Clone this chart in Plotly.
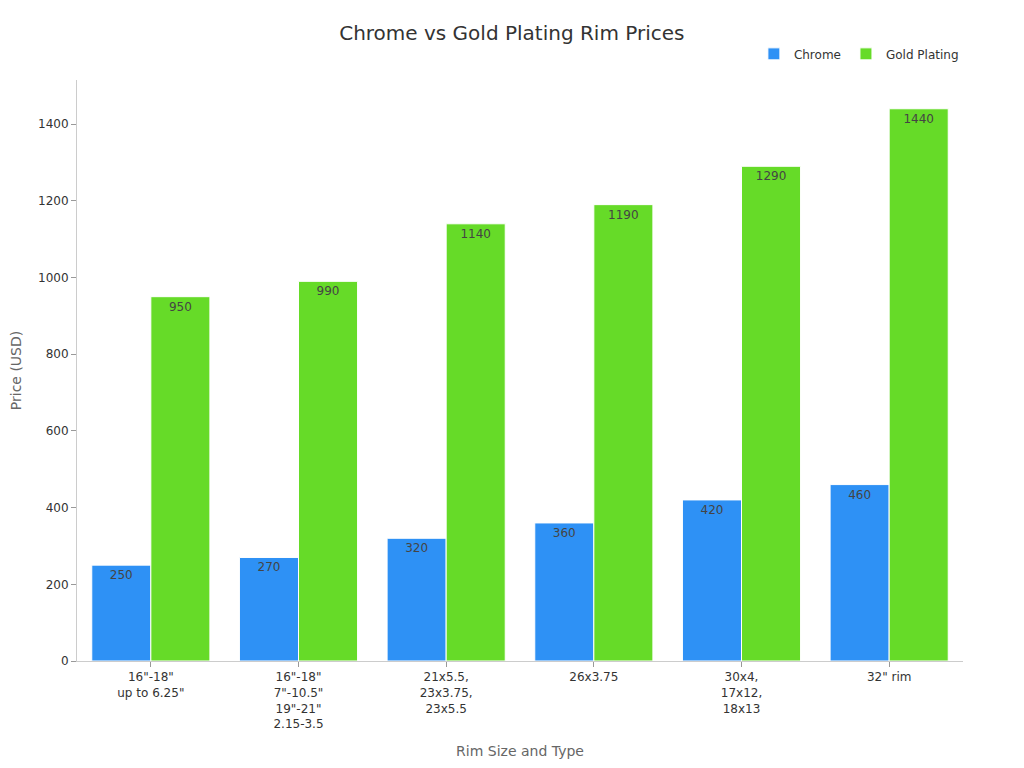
import plotly.graph_objects as go

categories = ['16"-18"<br>up to 6.25"', '16"-18"<br>7"-10.5"<br>19"-21"<br>2.15-3.5',
              '21x5.5,<br>23x3.75,<br>23x5.5', '26x3.75', '30x4,<br>17x12,<br>18x13', '32" rim']
chrome = [250, 270, 320, 360, 420, 460]
gold = [950, 990, 1140, 1190, 1290, 1440]

fig = go.Figure()
fig.add_trace(go.Bar(name="Chrome", x=categories, y=chrome, marker=dict(color="#2E91F5", line=dict(color="white", width=1)),
                     text=chrome, textposition="inside", insidetextanchor="end",
                     textfont=dict(color="#444444", size=12)))
fig.add_trace(go.Bar(name="Gold Plating", x=categories, y=gold, marker=dict(color="#66DB28", line=dict(color="white", width=1)),
                     text=gold, textposition="inside", insidetextanchor="end",
                     textfont=dict(color="#444444", size=12)))

fig.update_layout(
    width=1024, height=768,
    font=dict(family="DejaVu Sans", size=12, color="#333333"),
    title=dict(text="Chrome vs Gold Plating Rim Prices", x=0.492, xanchor="center", y=0.967, yanchor="middle",
               font=dict(size=20, color="#333333")),
    barmode="group", bargap=0.2, bargroupgap=0,
    plot_bgcolor="white", paper_bgcolor="white",
    margin=dict(l=69, r=69, t=72, b=115),
    legend=dict(orientation="h", x=1.001, xanchor="right", y=1.045, yanchor="middle", font=dict(size=12)),
    xaxis=dict(title=dict(text="Rim Size and Type", font=dict(size=14, color="#666666")), automargin=False,
               showline=True, linecolor="#cccccc", ticks="outside", tickcolor="#999999", ticklen=5, showgrid=False),
    yaxis=dict(title=dict(text="Price (USD)", font=dict(size=14, color="#666666"), standoff=22), automargin=False,
               range=[0, 1515], dtick=200, showline=True, linecolor="#cccccc", ticks="outside", tickcolor="#999999", ticklen=5,
               showgrid=False, zeroline=False),
)
fig.write_html("out.html")
